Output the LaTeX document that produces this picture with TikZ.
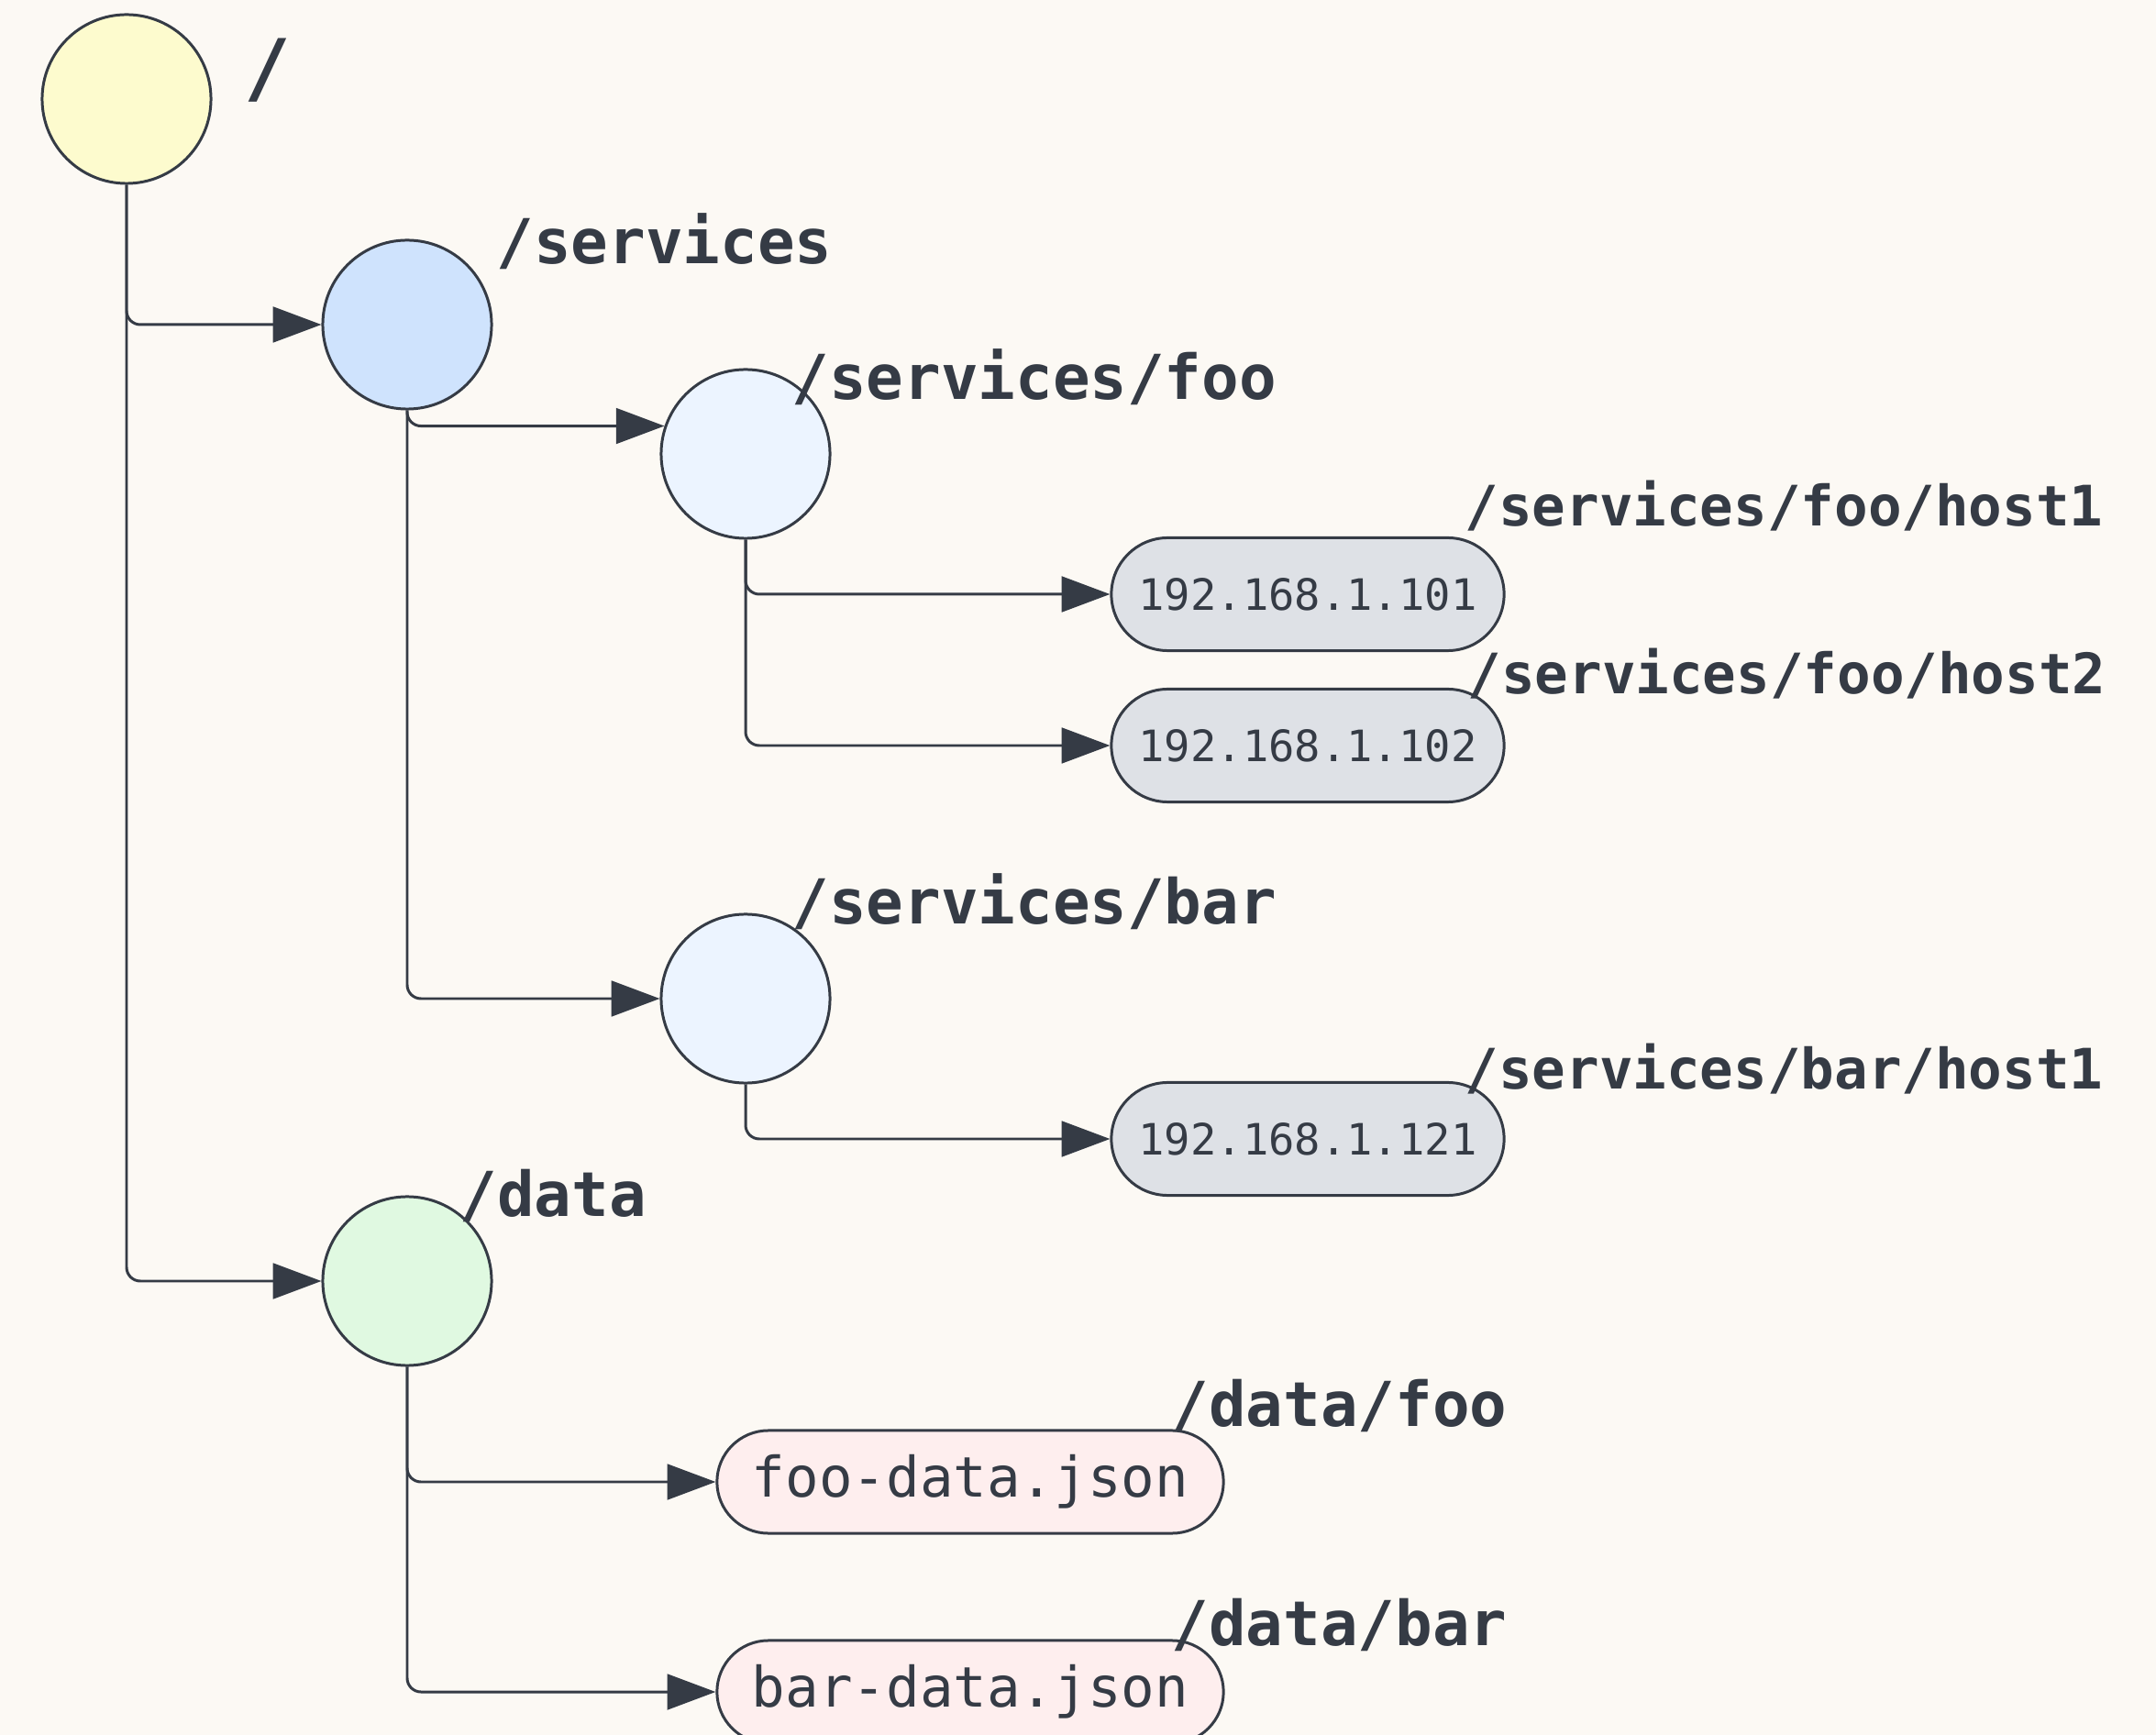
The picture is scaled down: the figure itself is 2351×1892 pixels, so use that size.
\documentclass[tikz,border=0pt]{standalone}
\usepackage{fontspec}
\setmonofont{DejaVu Sans Mono}
\usetikzlibrary{positioning,arrows.meta,shapes.misc}

\definecolor{ink}{HTML}{353B45}
\definecolor{paper}{HTML}{FCF9F4}
\definecolor{rootfill}{HTML}{FDFBCE}
\definecolor{svcfill}{HTML}{CFE3FD}
\definecolor{subfill}{HTML}{ECF4FF}
\definecolor{datafill}{HTML}{E0F9E1}
\definecolor{hostfill}{HTML}{DEE1E6}
\definecolor{filefill}{HTML}{FEEEEE}

\begin{document}
\begin{tikzpicture}[x=0.01cm, y=-0.01cm, line width=0.85pt, color=ink]
    \tikzstyle{dir}=[circle,draw=ink,minimum size=1.84cm,inner sep=0pt]
    \tikzstyle{host}=[rounded rectangle,draw=ink,fill=hostfill,minimum width=4.28cm,minimum height=1.23cm,inner sep=0pt,font=\ttfamily\fontsize{13.4}{16}\selectfont]
    \tikzstyle{file}=[rounded rectangle,draw=ink,fill=filefill,minimum width=5.52cm,minimum height=1.12cm,inner sep=0pt,font=\ttfamily\fontsize{17.3}{20}\selectfont]
    \tikzstyle{key}=[anchor=base west,inner sep=0pt,font=\ttfamily\bfseries\fontsize{19.2}{22}\selectfont]
    \tikzstyle{hostkey}=[key,font=\ttfamily\bfseries\fontsize{17.3}{20}\selectfont]
    \tikzstyle{edge}=[-{Triangle[length=15pt,width=11pt]},rounded corners=0.15cm]

    % paper
    \fill[paper] (0,0) rectangle (2351,1892);
    \useasboundingbox (0,0) rectangle (2351,1892);

    % directories
    \node[dir,fill=rootfill] (root) at (138,108) {};
    \node[dir,fill=svcfill] (services) at (444,354) {};
    \node[dir,fill=subfill] (sfoo) at (813,495) {};
    \node[dir,fill=subfill] (sbar) at (813,1089) {};
    \node[dir,fill=datafill] (data) at (444,1397) {};

    % leaves
    \node[host] (foohost1) at (1426,648) {192.168.1.101};
    \node[host] (foohost2) at (1426,813) {192.168.1.102};
    \node[host] (barhost1) at (1426,1242) {192.168.1.121};
    \node[file] (foodata) at (1058,1616) {foo-data.json};
    \node[file] (bardata) at (1058,1845) {bar-data.json};

    % keys
    \node[key,font=\ttfamily\bfseries\fontsize{24}{28}\selectfont] (rootkey) at (265,104) {/};
    \node[key] (serviceskey) at (540,288) {/services};
    \node[key] (sfookey) at (862,436) {/services/foo};
    \node[hostkey] (foohost1key) at (1596,574) {/services/foo/host1};
    \node[hostkey] (foohost2key) at (1599,757) {/services/foo/host2};
    \node[key] (sbarkey) at (862,1008) {/services/bar};
    \node[hostkey] (barhost1key) at (1596,1188) {/services/bar/host1};
    \node[key] (datakey) at (500,1327) {/data};
    \node[key] (foodatakey) at (1276,1555) {/data/foo};
    \node[key] (bardatakey) at (1276,1794) {/data/bar};

    \draw[edge] (root.south) |- (services.west);
    \draw[edge] (root.south) |- (data.west);

    \draw[edge] (services.south) |- (sfoo.161);
    \draw[edge] (services.south) |- (sbar.west);

    \draw[edge] (sfoo.south) |- (foohost1.west);
    \draw[edge] (sfoo.south) |- (foohost2.west);
    \draw[edge] (sbar.south) |- (barhost1.west);

    \draw[edge] (data.south) |- (foodata.west);
    \draw[edge] (data.south) |- (bardata.west);
\end{tikzpicture}
\end{document}
